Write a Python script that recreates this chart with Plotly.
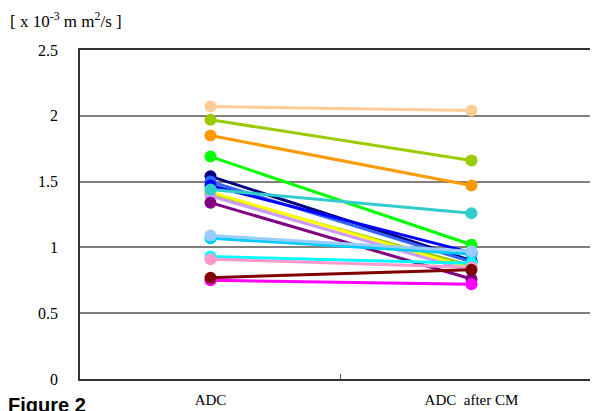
import plotly.graph_objects as go

categories = ["ADC", "ADC  after CM"]

series_colors = ["#FFCC99", "#99CC00", "#FF9900", "#00FF00", "#000080", "#3366FF",
                 "#0000FF", "#99CC00", "#FFFF00", "#CC99FF", "#800080", "#00CCFF",
                 "#99CCFF", "#00FFFF", "#FF99CC", "#FF00FF", "#800000", "#33CCCC"]
adc_before = [2.07, 1.97, 1.85, 1.69, 1.54, 1.50, 1.47, 1.41, 1.42, 1.39, 1.34, 1.07,
              1.09, 0.93, 0.91, 0.75, 0.77, 1.44]
adc_after = [2.04, 1.66, 1.47, 1.02, 0.90, 0.89, 0.96, 0.86, 0.84, 0.82, 0.76, 0.95,
             0.97, 0.88, 0.85, 0.72, 0.83, 1.26]
y_ticks = [0, 0.5, 1, 1.5, 2, 2.5]
y_tick_labels = ["0", "0.5", "1", "1.5", "2", "2.5"]

fig = go.Figure()
for c, a, b in zip(series_colors, adc_before, adc_after):
    fig.add_trace(go.Scatter(
        x=categories, y=[a, b], mode="lines+markers",
        line=dict(color=c, width=3),
        marker=dict(color=c, size=12),
        showlegend=False, hoverinfo="skip"))

serif = "Liberation Serif"
fig.update_layout(
    width=590, height=403,
    margin=dict(l=72, r=0, t=42, b=32),
    plot_bgcolor="white", paper_bgcolor="white",
    xaxis=dict(type="category", range=[-0.5, 1.485], tickson="boundaries",
               ticks="inside", ticklen=5, tickcolor="#555555",
               ticklabelstandoff=6,
               showline=True, linecolor="#333333", linewidth=1.5, mirror=True,
               showgrid=False, tickfont=dict(family=serif, size=15, color="black")),
    yaxis=dict(range=[0, 2.5], tickvals=y_ticks, ticktext=y_tick_labels,
               ticks="", ticklabelstandoff=17,
               showline=True, linecolor="#333333", linewidth=1.5,
               showgrid=True, gridcolor="#808080", gridwidth=1.5, zeroline=False,
               tickfont=dict(family=serif, size=16, color="black")),
    annotations=[
        dict(text="[ x 10<sup>-3</sup> m m<sup>2</sup>/s ]", xref="paper", yref="paper",
             x=-0.139, y=1.091, xanchor="left", yanchor="middle", showarrow=False,
             font=dict(family=serif, size=17, color="black")),
        dict(text="<b>Figure 2</b>", xref="paper", yref="paper",
             x=-0.142, y=-0.04, xanchor="left", yanchor="top", showarrow=False,
             font=dict(family="Liberation Sans", size=20, color="black")),
    ],
)
fig.write_html("out.html")
